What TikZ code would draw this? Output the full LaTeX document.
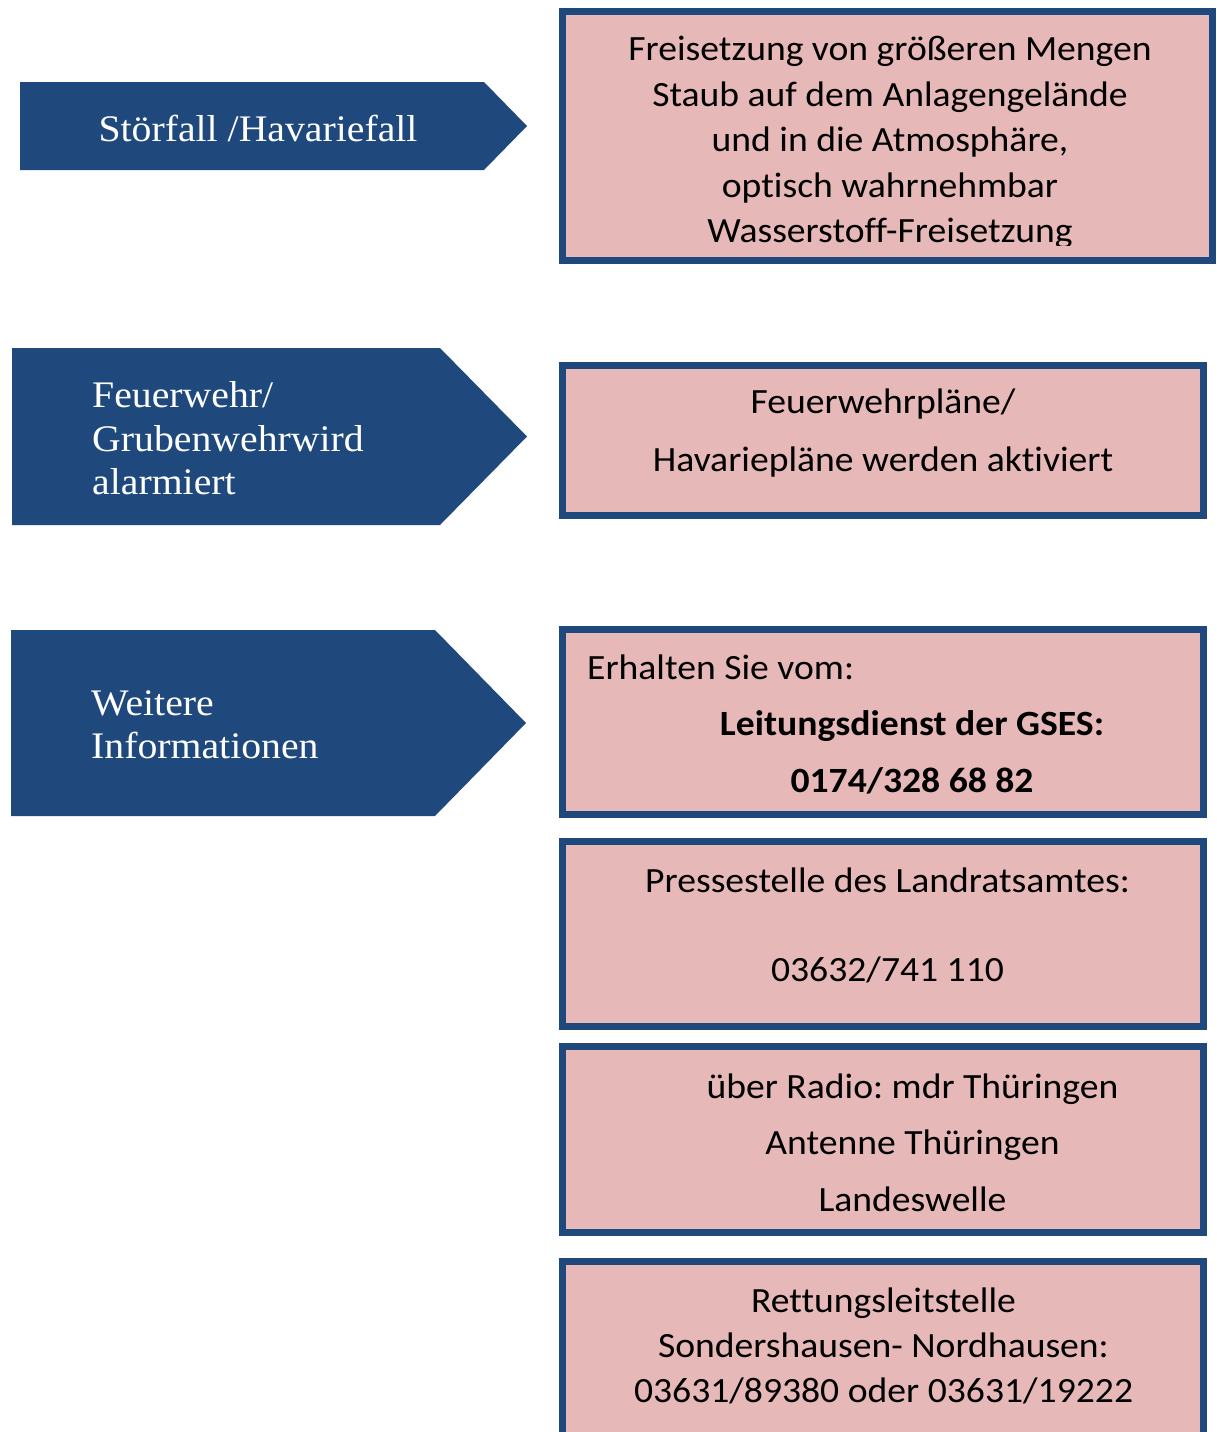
\documentclass[tikz,border=0pt]{standalone}
\usepackage{fontspec}
\setmainfont{Liberation Serif}[FakeStretch=1.06]
\newfontfamily\calibri{Carlito}[FakeStretch=1.06, Ligatures=NoCommon]
\definecolor{navy}{HTML}{1F497D}
\definecolor{rose}{HTML}{E6B8B7}
\frenchspacing

\begin{document}
\begin{tikzpicture}[x=1pt, y=-1pt,
    infobox/.style={draw=navy, line width=7pt, fill=rose, inner sep=0pt},
    boxtext/.style={font=\calibri\fontsize{35.5}{45.5}\selectfont, align=center, inner sep=0pt},
    arrowtext/.style={text=white, font=\fontsize{37.5}{43.5}\selectfont, align=left, inner sep=0pt}]
\useasboundingbox (0,0) rectangle (1216,1432);
\clip (0,0) rectangle (1216,1432);

\fill [navy] (20,82) coordinate (s1) -- (484,82) -- (527,126) coordinate (tip1) -- (484,170) -- (20,170) -- cycle;
\fill [navy] (12,348) coordinate (s2) -- (440,348) -- (527,436.5) coordinate (tip2) -- (440,525) -- (12,525) -- cycle;
\fill [navy] (11,630) coordinate (s3) -- (435,630) -- (526,723) coordinate (tip3) -- (435,816) -- (11,816) -- cycle;
\node [arrowtext] (stoerfall) at (258,128) {Störfall /Havariefall};
\node [arrowtext, anchor=west] (alarm) at (92,438.5) {Feuerwehr/\\Grubenwehrwird\\alarmiert};
\node [arrowtext, anchor=west] (weitere) at (91,725) {Weitere\\Informationen};

\node [infobox, minimum width=650pt, minimum height=249pt] (freisetzung) at (887.5,136) {};
\node [infobox, minimum width=641pt, minimum height=150pt] (plaene) at (883,440.5) {};
\node [infobox, minimum width=641pt, minimum height=185pt] (gses) at (883,722) {};
\node [infobox, minimum width=641pt, minimum height=185pt] (presse) at (883,934) {};
\node [infobox, minimum width=641pt, minimum height=186pt] (radio) at (883,1139.5) {};
\node [infobox, minimum width=641pt, minimum height=200pt] (rettung) at (883,1361.5) {};

\begin{scope}
\clip (566,15) rectangle (1209,245);
\node [boxtext] (freisetzungtext) at (890,142.5) {Freisetzung von größeren Mengen\\Staub auf dem Anlagengelände\\und in die Atmosphäre,\\optisch wahrnehmbar\\Wasserstoff-Freisetzung};
\end{scope}
\node [boxtext, font=\calibri\fontsize{35.5}{57.5}\selectfont] (plaenetext) at (883,433) {Feuerwehrpläne/\\Havariepläne werden aktiviert};
\node [boxtext, anchor=west] (erhalten) at (587,667) {Erhalten Sie vom:};
\node [boxtext, font=\calibri\bfseries\fontsize{35.5}{57}\selectfont] (gsestext) at (912,752.5) {Leitungsdienst der GSES:\\0174/328 68 82};
\node [boxtext, font=\calibri\fontsize{35.5}{44.5}\selectfont] (pressetext) at (887.5,925.5) {Pressestelle des Landratsamtes:\\[44.5pt]03632/741 110};
\node [boxtext, font=\calibri\fontsize{35.5}{56.5}\selectfont] (radiotext) at (912.5,1142.5) {über Radio: mdr Thüringen\\Antenne Thüringen\\Landeswelle};
\node [boxtext, font=\calibri\fontsize{35.5}{45}\selectfont] (rettungtext) at (883.5,1346) {Rettungsleitstelle\\Sondershausen- Nordhausen:\\03631/89380 oder 03631/19222};
\end{tikzpicture}
\end{document}
